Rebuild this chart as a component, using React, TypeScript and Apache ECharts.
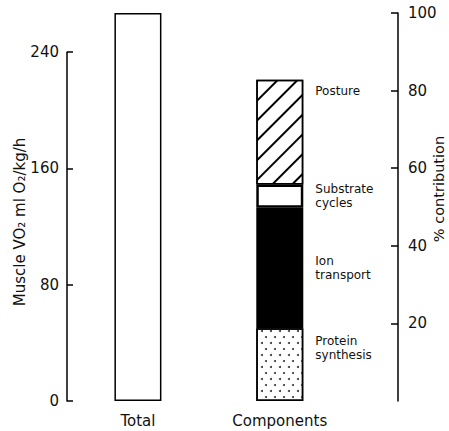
import React, { useEffect, useRef } from 'react';
import * as echarts from 'echarts';

// ---- data ----
const categories = ['', 'Total', '', '', 'Components', '', ''];
const totalValue = 267; // 100 %
const componentNames = ['Protein synthesis', 'Ion transport', 'Substrate cycles', 'Posture'];
const componentLabels = ['Protein\nsynthesis', 'Ion\ntransport', 'Substrate\ncycles', 'Posture'];
const componentValues = [50, 83, 16, 72];
const leftTicks = [0, 80, 160, 240];
const leftAxisMax = 240;
const leftInterval = 80;
const rightMax = 100;
const rightInterval = 20;

const FONT = '"DejaVu Sans", "Liberation Sans", sans-serif';
const INK = '#111';

const GRID_LEFT = 67;
const GRID_RIGHT = 51;
const GRID_TOP = 13;
const GRID_BOTTOM = 30;
const H = 431;
const W = 449;

export default function App() {
  const ref = useRef<HTMLDivElement>(null);
  useEffect(() => {
    if (!ref.current) return;
    const chart = echarts.init(ref.current, null, { renderer: 'svg' });
    const plotH = H - GRID_TOP - GRID_BOTTOM;
    const leftAxisTop = GRID_TOP + plotH * (1 - leftAxisMax / totalValue);

    const compStyles: any[] = [
      {
        color: '#fff',
        borderColor: '#000',
        borderWidth: 1.5,
        decal: {
          symbol: 'circle',
          symbolSize: 1,
          dashArrayX: [[1.2, 6.5], [0, 4, 1.2, 2.5]],
          dashArrayY: [1.2, 3.6],
          color: '#333',
        },
      },
      { color: '#000', borderColor: '#000', borderWidth: 1.5 },
      { color: '#fff', borderColor: '#000', borderWidth: 2.5 },
      {
        color: '#fff',
        borderColor: '#000',
        borderWidth: 1.5,
        decal: {
          symbol: 'rect',
          symbolSize: 1,
          dashArrayX: [1, 0],
          dashArrayY: [1.2, 11.5],
          rotation: -Math.PI / 4,
          color: '#000',
        },
      },
    ];
    const labelPos: any[] = [[59, 20], 'right', 'right', [59, 11]];

    const series: any[] = [
      {
        name: 'Total',
        type: 'bar',
        stack: 'all',
        xAxisIndex: 0,
        yAxisIndex: 0,
        barWidth: 47,
        data: categories.map((c) => (c === 'Total' ? totalValue : '-')),
        itemStyle: { color: '#fff', borderColor: '#000', borderWidth: 1.5 },
      },
      ...componentNames.map((n, i) => ({
        name: n,
        type: 'bar',
        stack: 'all',
        xAxisIndex: 0,
        yAxisIndex: 0,
        barWidth: 47,
        data: categories.map((c) => (c === 'Components' ? componentValues[i] : '-')),
        itemStyle: compStyles[i],
        label: {
          show: true,
          position: labelPos[i],
          distance: 12,
          align: 'left',
          verticalAlign: 'middle',
          formatter: () => componentLabels[i],
          fontFamily: FONT,
          fontSize: 12,
          lineHeight: 14,
          color: INK,
        },
      })),
    ];

    chart.setOption({
      animation: false,
      backgroundColor: '#fff',
      grid: [
        { left: GRID_LEFT, right: GRID_RIGHT, top: GRID_TOP, bottom: GRID_BOTTOM },
        { left: GRID_LEFT, right: GRID_RIGHT, top: leftAxisTop, bottom: GRID_BOTTOM },
      ],
      xAxis: [
        {
          type: 'category',
          gridIndex: 0,
          data: categories,
          axisLine: { show: false },
          axisTick: { show: false },
          axisLabel: { fontFamily: FONT, fontSize: 15, color: INK, margin: 12, interval: 0 },
        },
        { type: 'value', gridIndex: 1, show: false, min: 0, max: 1 },
      ],
      yAxis: [
        { type: 'value', gridIndex: 0, min: 0, max: totalValue, show: false },
        {
          type: 'value',
          gridIndex: 0,
          position: 'right',
          min: 0,
          max: rightMax,
          interval: rightInterval,
          axisLine: { show: true, lineStyle: { color: '#000', width: 1.5 } },
          axisTick: { show: true, inside: true, length: 7, lineStyle: { color: '#000', width: 1.5 } },
          axisLabel: { showMinLabel: false, fontFamily: FONT, fontSize: 15, color: INK, margin: 10 },
          splitLine: { show: false },
        },
        {
          type: 'value',
          gridIndex: 1,
          position: 'left',
          min: leftTicks[0],
          max: leftAxisMax,
          interval: leftInterval,
          axisLine: { show: true, lineStyle: { color: '#000', width: 1.5 } },
          axisTick: { show: true, inside: true, length: 6, lineStyle: { color: '#000', width: 1.5 } },
          axisLabel: { fontFamily: FONT, fontSize: 15, color: INK, margin: 8 },
          splitLine: { show: false },
        },
      ],
      graphic: [
        {
          type: 'text',
          x: 20,
          y: 222,
          rotation: Math.PI / 2,
          style: {
            text: 'Muscle VO₂ ml O₂/kg/h',
            fontFamily: FONT,
            fontSize: 15,
            fill: INK,
            align: 'center',
            verticalAlign: 'middle',
          },
        },
        {
          type: 'text',
          x: 439,
          y: 189,
          rotation: Math.PI / 2,
          style: {
            text: '% contribution',
            fontFamily: FONT,
            fontSize: 14.5,
            fill: INK,
            align: 'center',
            verticalAlign: 'middle',
          },
        },
      ],
      series,
    });
    return () => chart.dispose();
  }, []);
  return (
    <div
      ref={ref}
      style={{ position: 'absolute', left: 0, top: 0, width: W, height: H, background: '#fff' }}
    />
  );
}
